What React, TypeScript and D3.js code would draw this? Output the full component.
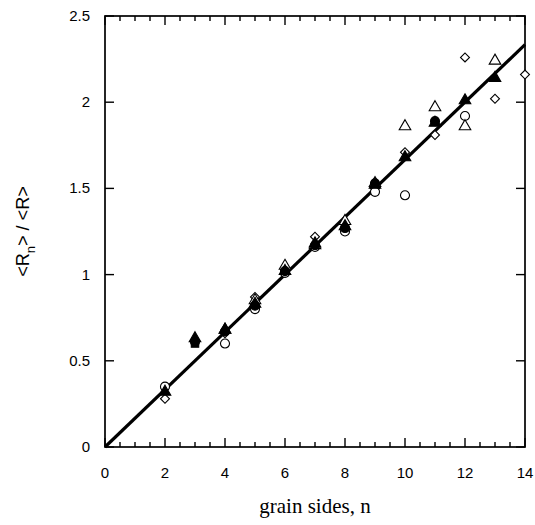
import * as d3 from "d3";

const width = 535;
const height = 525;
const margin = { left: 105, right: 10, top: 16, bottom: 78 };

const xTicks = [0, 2, 4, 6, 8, 10, 12, 14];
const yTicks = [0, 0.5, 1, 1.5, 2, 2.5];
const yTickLabels = ["0", "0.5", "1", "1.5", "2", "2.5"];
const fitSlope = 0.1667;

// [n, <Rn>/<R>]
const circleOpen = [[2, 0.35], [4, 0.6], [5, 0.8], [6, 1.01], [7, 1.16], [8, 1.25], [9, 1.48], [10, 1.46], [12, 1.92]];
const circleFilled = [[3, 0.61], [4, 0.67], [5, 0.82], [6, 1.02], [7, 1.17], [8, 1.27], [9, 1.53], [11, 1.89]];
const triangleOpen = [[4, 0.68], [5, 0.85], [6, 1.05], [7, 1.17], [8, 1.31], [9, 1.53], [10, 1.86], [11, 1.97], [12, 1.86], [13, 2.24]];
const triangleFilled = [[2, 0.32], [3, 0.63], [4, 0.68], [5, 0.83], [6, 1.02], [7, 1.18], [8, 1.28], [9, 1.52], [10, 1.68], [11, 1.88], [12, 2.01], [13, 2.14]];
const diamondOpen = [[2, 0.28], [4, 0.66], [5, 0.87], [6, 1.03], [7, 1.22], [8, 1.29], [9, 1.5], [10, 1.71], [11, 1.81], [12, 2.26], [13, 2.02], [14, 2.16]];
const squareFilled = [[3, 0.6]];

// diamonds are drawn as squares turned by 45 degrees
const series = [
  { data: diamondOpen, type: d3.symbolSquare, size: 40, rotate: 45, filled: false },
  { data: circleOpen, type: d3.symbolCircle, size: 64, rotate: 0, filled: false },
  { data: triangleOpen, type: d3.symbolTriangle, size: 58, rotate: 0, filled: false },
  { data: squareFilled, type: d3.symbolSquare, size: 55, rotate: 0, filled: true },
  { data: circleFilled, type: d3.symbolCircle, size: 64, rotate: 0, filled: true },
  { data: triangleFilled, type: d3.symbolTriangle, size: 58, rotate: 0, filled: true },
];

export default function App() {
  const x = d3.scaleLinear().domain([0, 14]).range([margin.left, width - margin.right]);
  const y = d3.scaleLinear().domain([0, 2.5]).range([height - margin.bottom, margin.top]);
  const [x0, x1] = x.range();
  const [y0, y1] = y.range();
  const minorX = d3.range(0, 14.01, 0.5);

  const fit = d3
    .line<number>()
    .x((n) => x(n))
    .y((n) => y(fitSlope * n));

  return (
    <svg width={width} height={height} style={{ position: "absolute", left: 0, top: 0 }}>
      <rect width={width} height={height} fill="white" />

      {/* ticks, all pointing inward */}
      <g stroke="black" strokeWidth={1.4}>
        {minorX.map((t) => {
          const len = t % 2 === 0 ? 9 : 5;
          return (
            <g key={t}>
              <line x1={x(t)} x2={x(t)} y1={y0} y2={y0 - len} />
              <line x1={x(t)} x2={x(t)} y1={y1} y2={y1 + len} />
            </g>
          );
        })}
        {yTicks.map((t) => (
          <g key={t}>
            <line x1={x0} x2={x0 + 9} y1={y(t)} y2={y(t)} />
            <line x1={x1} x2={x1 - 9} y1={y(t)} y2={y(t)} />
          </g>
        ))}
      </g>

      <rect
        x={x0}
        y={y1}
        width={x1 - x0}
        height={y0 - y1}
        fill="none"
        stroke="black"
        strokeWidth={1.7}
      />

      <path d={fit(d3.range(0, 14.01, 14)) ?? ""} stroke="black" strokeWidth={3.2} fill="none" />

      {series.map((s, i) =>
        s.data.map(([n, v], j) => (
          <path
            key={`${i}-${j}`}
            d={d3.symbol().type(s.type).size(s.size)() ?? ""}
            transform={`translate(${x(n)},${y(v)}) rotate(${s.rotate})`}
            fill={s.filled ? "black" : "white"}
            stroke="black"
            strokeWidth={1.1}
          />
        ))
      )}

      <g fontFamily="Liberation Sans, Arial, sans-serif" fontSize={15} fill="black">
        {xTicks.map((t) => (
          <text key={t} x={x(t)} y={y0 + 31} textAnchor="middle">
            {t}
          </text>
        ))}
        {yTicks.map((t, i) => (
          <text key={t} x={x0 - 15} y={y(t) + 5} textAnchor="end">
            {yTickLabels[i]}
          </text>
        ))}
      </g>

      <text
        x={x(7)}
        y={513}
        textAnchor="middle"
        fontFamily="Liberation Serif, Times New Roman, serif"
        fontSize={21}
      >
        grain sides, n
      </text>

      <text
        transform={`translate(29,${(y0 + y1) / 2}) rotate(-90)`}
        textAnchor="middle"
        fontFamily="Liberation Sans, Arial, sans-serif"
        fontSize={18}
      >
        {"<R"}
        <tspan dy={6} fontSize={13}>n</tspan>
        <tspan dy={-6}>{"> / <R>"}</tspan>
      </text>
    </svg>
  );
}
